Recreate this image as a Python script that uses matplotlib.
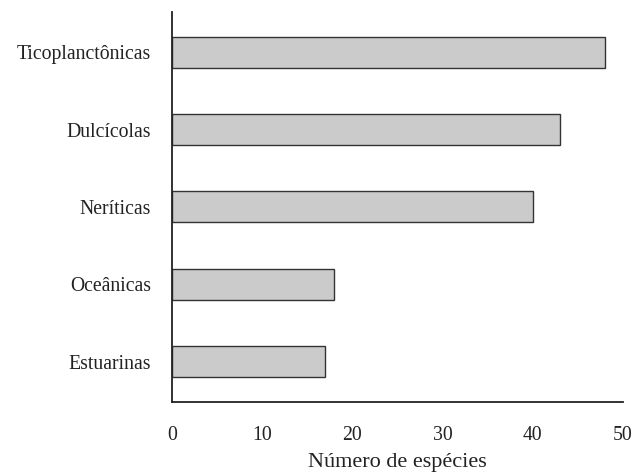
import matplotlib
matplotlib.use("Agg")
import matplotlib.pyplot as plt

categories = ["Estuarinas", "Oceânicas", "Neríticas", "Dulcícolas", "Ticoplanctônicas"]
species = [17, 18, 40, 43, 48]
xticks = [0, 10, 20, 30, 40, 50]

plt.rcParams["font.family"] = ["Liberation Serif", "DejaVu Serif"]

fig = plt.figure(figsize=(6.34, 4.74), dpi=100)
ax = fig.add_axes([0.2713, 0.152, 0.7113, 0.8227])

ax.barh(range(len(categories)), species, height=0.4, color="#cbcbcb",
        edgecolor="#333333", linewidth=1.0)

ax.set_xlim(0, 50)
ax.set_ylim(-0.52, 4.52)
ax.set_xticks(xticks)
ax.set_yticks(range(len(categories)))
ax.set_yticklabels(categories)
ax.tick_params(axis="both", length=0, labelsize=14.2, colors="#222222")
ax.tick_params(axis="y", pad=15)
ax.tick_params(axis="x", pad=17)
ax.set_xlabel("Número de espécies", fontsize=16, color="#222222", labelpad=6)

for s in ["top", "right"]:
    ax.spines[s].set_visible(False)
for s in ["left", "bottom"]:
    ax.spines[s].set_linewidth(1.3)
    ax.spines[s].set_color("#222222")

fig.savefig("out.png", dpi=100, facecolor="white")
